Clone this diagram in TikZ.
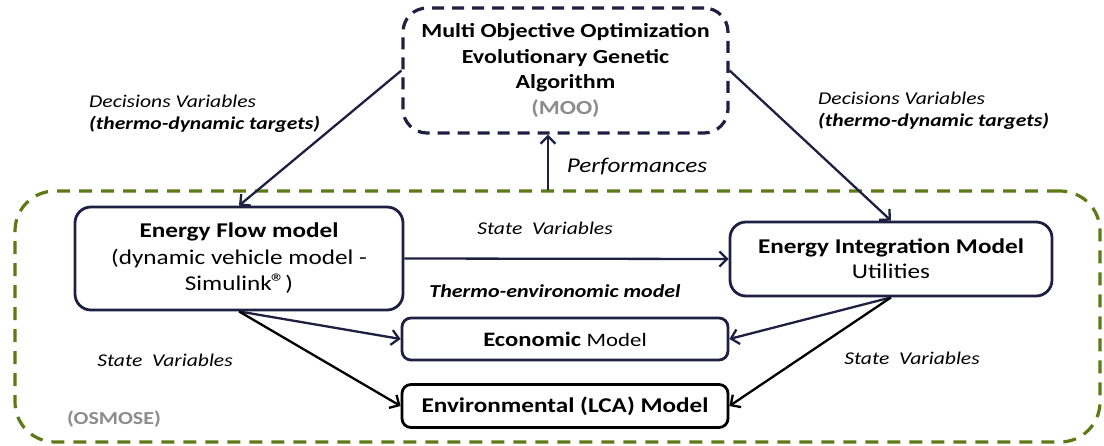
\documentclass[tikz,border=0pt]{standalone}
\usepackage{fontspec}
\setmainfont{Carlito}[FakeStretch=1.2]
\usetikzlibrary{arrows.meta}

\definecolor{navy}{RGB}{30,32,66}
\definecolor{olive}{RGB}{94,122,22}
\definecolor{greytxt}{RGB}{140,140,140}

\newcommand{\regmark}{{\fontsize{24}{24}\selectfont\kern-1pt\textregistered}}

\begin{document}
\begin{tikzpicture}[x=1pt, y=-1pt,
  model/.style = {draw=navy, line width=2.8pt, rounded corners=16pt, align=center, inner sep=0pt},
  box/.style = {draw=black, line width=2.8pt, rounded corners=9pt, align=center, inner sep=0pt},
  link/.style = {navy, line width=2.3pt, -{Straight Barb[length=7.5pt, width=15pt, line width=2.3pt]}},
  blink/.style = {black, line width=2.3pt, -{Straight Barb[length=7.5pt, width=15pt, line width=2.3pt]}},
  lbl/.style = {font=\fontsize{18}{22}\selectfont\itshape, inner sep=0pt},
  big/.style = {font=\fontsize{21}{26.5}\selectfont}]

\useasboundingbox (0,0) rectangle (1104,445);

% outer frame (OSMOSE)
\node[draw=olive, line width=3.2pt, dash pattern=on 13pt off 9pt, rounded corners=40pt,
      minimum width=1085pt, minimum height=251pt] (osmose) at (557.5,316.5) {};
\node[font=\fontsize{18.3}{22}\selectfont\bfseries, text=greytxt, anchor=west, inner sep=0pt] (osm) at (67,419) {(OSMOSE)};

% optimiser on top
\node[draw=navy, line width=3.2pt, dash pattern=on 12pt off 8pt, rounded corners=24pt, align=center,
      minimum width=325pt, minimum height=125pt, inner sep=0pt,
      font=\fontsize{20}{25.5}\selectfont\bfseries] (moo) at (565.5,70.5)
  {Multi Objective Optimization\\Evolutionary Genetic\\Algorithm\\\textcolor{greytxt}{(MOO)}};

% models
\node[model, minimum width=328pt, minimum height=103pt, big] (flow) at (239,258.5)
  {\textbf{Energy Flow model}\\(dynamic vehicle model -\\Simulink\regmark)};
\node[model, minimum width=322pt, minimum height=74pt, font=\fontsize{21}{25}\selectfont] (integ) at (891,259)
  {\textbf{Energy Integration Model}\\Utilities};
\node[model, rounded corners=9pt, minimum width=326pt, minimum height=42pt] (econ) at (565,339)
  {\fontsize{20.5}{25}\selectfont\textbf{Economic} \fontsize{19}{25}\selectfont Model};
\node[box, minimum width=326pt, minimum height=43pt, font=\fontsize{21}{25}\selectfont\bfseries] (env) at (565,406)
  {Environmental (LCA) Model};

% connectors
\draw[link] (moo.west) -- (flow.north);
\draw[link] (moo.east) -- (integ.north);
\coordinate (perf) at (548,190);
\draw[link] (perf) -- (perf |- moo.south);
\draw[link] (flow.east) -- (integ.west);
\draw[link] (flow.south) -- (econ.west);
\draw[blink] (flow.south) -- (env.west);
\draw[link] (integ.south) -- (econ.east);
\draw[blink] (integ.south) -- (env.east);

% labels
\node[lbl, anchor=west, align=left] (dvl) at (89,114)
  {Decisions Variables\\\textbf{(thermo-dynamic targets)}};
\node[lbl, anchor=west, align=left] (dvr) at (818,111)
  {Decisions Variables\\\textbf{(thermo-dynamic targets)}};
\node[lbl, font=\fontsize{21}{24}\selectfont\itshape] (perfl) at (637,167) {Performances};
\node[lbl] (sv1) at (545,228) {State\ \ Variables};
\node[lbl, font=\fontsize{18.3}{22}\selectfont\itshape\bfseries] (thermo) at (555,291) {Thermo-environomic model};
\node[lbl] (sv2) at (165,360) {State\ \ Variables};
\node[lbl] (sv3) at (912,358) {State\ \ Variables};

\end{tikzpicture}
\end{document}
